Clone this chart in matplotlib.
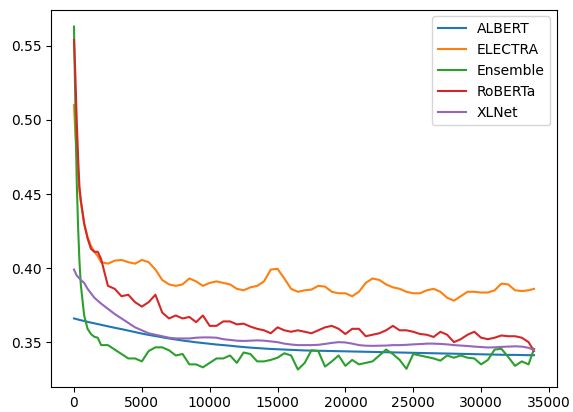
import matplotlib
matplotlib.use("Agg")
import matplotlib.pyplot as plt

steps = [0, 100, 200, 300, 400, 500, 750, 1000, 1250, 1500, 1750,
         2000, 2500, 3000, 3500, 4000, 4500, 5000, 5500, 6000, 6500,
         7000, 7500, 8000, 8500, 9000, 9500, 10000, 10500, 11000, 11500,
         12000, 12500, 13000, 13500, 14000, 14500, 15000, 15500, 16000, 16500,
         17000, 17500, 18000, 18500, 19000, 19500, 20000, 20500, 21000, 21500,
         22000, 22500, 23000, 23500, 24000, 24500, 25000, 25500, 26000, 26500,
         27000, 27500, 28000, 28500, 29000, 29500, 30000, 30500, 31000, 31500,
         32000, 32500, 33000, 33500, 33900]

albert = [0.366, 0.3658, 0.3655, 0.3653, 0.365, 0.3648, 0.3643, 0.3637, 0.3632, 0.3627, 0.3622,
          0.3617, 0.3607, 0.3597, 0.3588, 0.3578, 0.3568, 0.3558, 0.3549, 0.3541, 0.3533,
          0.3525, 0.3518, 0.3511, 0.3505, 0.3499, 0.3494, 0.3489, 0.3484, 0.348, 0.3476,
          0.3471, 0.3467, 0.3463, 0.346, 0.3457, 0.3454, 0.3452, 0.345, 0.3448, 0.3446,
          0.3444, 0.3443, 0.3442, 0.3441, 0.344, 0.3439, 0.3438, 0.3437, 0.3436, 0.3435,
          0.3434, 0.3433, 0.3432, 0.3431, 0.343, 0.3429, 0.3428, 0.3427, 0.3426, 0.3425,
          0.3424, 0.3423, 0.3422, 0.3421, 0.342, 0.3419, 0.3418, 0.3417, 0.3416, 0.3415,
          0.3414, 0.3414, 0.3413, 0.3412, 0.3412]

electra = [0.510, 0.490, 0.475, 0.463, 0.452, 0.445, 0.430, 0.421, 0.415, 0.411, 0.408,
           0.404, 0.403, 0.405, 0.4055, 0.404, 0.403, 0.4055, 0.404, 0.399, 0.392,
           0.389, 0.388, 0.389, 0.393, 0.391, 0.388, 0.390, 0.391, 0.390, 0.389,
           0.386, 0.385, 0.387, 0.388, 0.391, 0.399, 0.3995, 0.393, 0.386, 0.384,
           0.385, 0.3855, 0.388, 0.3875, 0.384, 0.383, 0.383, 0.381, 0.384, 0.390,
           0.393, 0.392, 0.389, 0.387, 0.386, 0.384, 0.383, 0.383, 0.385, 0.386,
           0.384, 0.380, 0.378, 0.381, 0.384, 0.384, 0.3835, 0.3835, 0.385, 0.3895,
           0.389, 0.385, 0.3845, 0.385, 0.386]

ensemble = [0.563, 0.510, 0.459, 0.428, 0.405, 0.389, 0.368, 0.359, 0.3555, 0.3536, 0.353,
            0.348, 0.348, 0.345, 0.342, 0.339, 0.339, 0.337, 0.344, 0.3465, 0.3465,
            0.3445, 0.341, 0.342, 0.335, 0.335, 0.333, 0.336, 0.339, 0.339, 0.341,
            0.336, 0.343, 0.342, 0.337, 0.337, 0.338, 0.3395, 0.3425, 0.341, 0.3315,
            0.336, 0.3445, 0.344, 0.3335, 0.337, 0.341, 0.334, 0.338, 0.335, 0.336,
            0.337, 0.341, 0.345, 0.342, 0.338, 0.332, 0.342, 0.341, 0.340, 0.339,
            0.3375, 0.341, 0.3395, 0.341, 0.3395, 0.339, 0.335, 0.338, 0.345, 0.3455,
            0.340, 0.334, 0.337, 0.335, 0.3455]

roberta = [0.554, 0.530, 0.500, 0.475, 0.455, 0.446, 0.430, 0.420, 0.413, 0.411, 0.411,
           0.406, 0.388, 0.386, 0.381, 0.382, 0.377, 0.374, 0.377, 0.382, 0.370,
           0.366, 0.368, 0.366, 0.367, 0.3635, 0.368, 0.361, 0.361, 0.364, 0.364,
           0.362, 0.3625, 0.3605, 0.359, 0.358, 0.356, 0.360, 0.358, 0.357, 0.358,
           0.357, 0.356, 0.358, 0.360, 0.361, 0.359, 0.3555, 0.359, 0.359, 0.354,
           0.355, 0.356, 0.358, 0.361, 0.358, 0.358, 0.357, 0.3555, 0.355, 0.3535,
           0.357, 0.355, 0.350, 0.352, 0.355, 0.357, 0.353, 0.352, 0.353, 0.3545,
           0.354, 0.354, 0.353, 0.350, 0.344]

xlnet = [0.399, 0.397, 0.395, 0.394, 0.393, 0.392, 0.390, 0.386, 0.383, 0.380, 0.378,
         0.376, 0.3725, 0.369, 0.366, 0.363, 0.360, 0.358, 0.356, 0.355, 0.354,
         0.353, 0.3525, 0.3525, 0.3525, 0.353, 0.3532, 0.3532, 0.353, 0.352, 0.3515,
         0.351, 0.3508, 0.351, 0.3512, 0.351, 0.3505, 0.350, 0.349, 0.3484, 0.348,
         0.348, 0.348, 0.3482, 0.3488, 0.3495, 0.350, 0.3498, 0.349, 0.348, 0.3476,
         0.3475, 0.3476, 0.3477, 0.348, 0.348, 0.3482, 0.3485, 0.3487, 0.349, 0.349,
         0.3488, 0.3485, 0.348, 0.3477, 0.3474, 0.347, 0.3467, 0.3464, 0.3465, 0.3468,
         0.347, 0.3472, 0.347, 0.3462, 0.3446]

names = ["ALBERT", "ELECTRA", "Ensemble", "RoBERTa", "XLNet"]
series = [albert, electra, ensemble, roberta, xlnet]

fig = plt.figure(figsize=(5.73, 4.12), dpi=100)
ax = fig.add_axes([51 / 573, 1 - 386.7 / 412, (557 - 51) / 573, (386.7 - 9.5) / 412])
for name, vals in zip(names, series):
    ax.plot(steps, vals, label=name, linewidth=1.5)
ax.set_yticks([0.35, 0.40, 0.45, 0.50, 0.55])
ax.legend(loc="upper right")
fig.savefig("out.png", dpi=100)
